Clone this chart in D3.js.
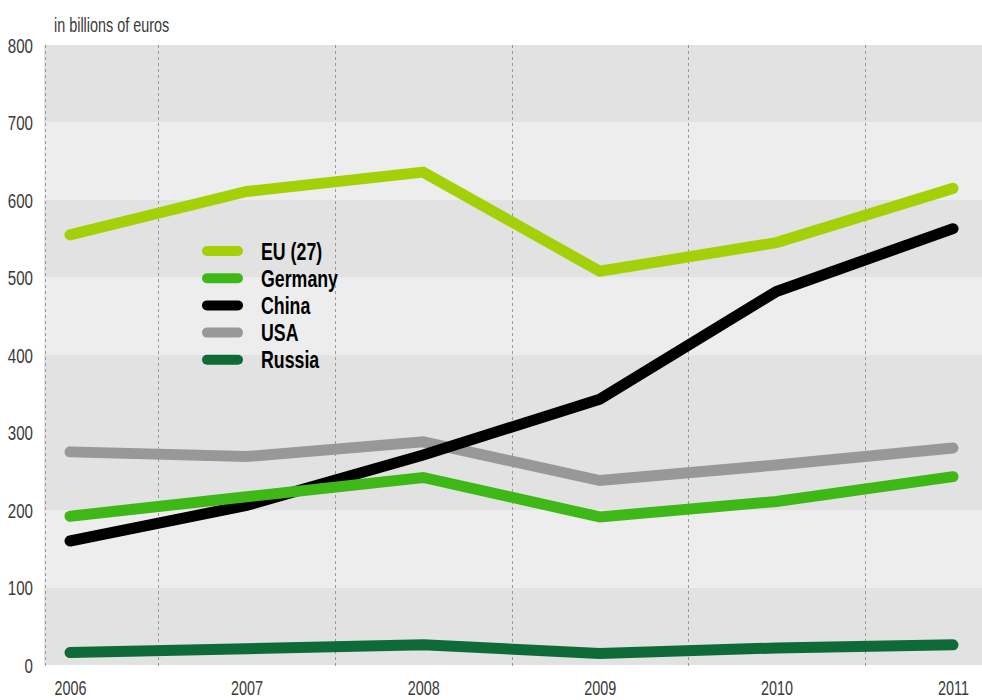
<!DOCTYPE html>
<html>
<head>
<meta charset="utf-8">
<script src="https://cdn.jsdelivr.net/npm/d3@7"></script>
<style>
  body { margin: 0; background: #fff; }
  svg { display: block; }
  text { font-family: "Liberation Sans", Arial, sans-serif; }
</style>
</head>
<body>
<div id="chart"></div>
<script>
// data (billions of euros)
var years   = [2006, 2007, 2008, 2009, 2010, 2011];
var eu      = [555, 611, 636, 508, 545, 615];
var germany = [192, 217, 242, 191, 211, 243];
var china   = [160, 206, 271, 343, 482, 563];
var usa     = [275, 269, 288, 238, 258, 280];
var russia  = [16, 21, 26, 15, 22, 26];

var seriesNames  = ["EU (27)", "Germany", "China", "USA", "Russia"];
var seriesValues = [eu, germany, china, usa, russia];
var seriesColors = ["#a4d007", "#3db816", "#000000", "#979897", "#0e6b37"];

var yTicks = [0, 100, 200, 300, 400, 500, 600, 700, 800];
var bandBreaks = [0, 100, 200, 400, 500, 600, 700, 800];  // shaded background bands
var unitLabel = "in billions of euros";

var width = 982, height = 700;
var plot = { left: 44, right: 982, top: 45, bottom: 665 };
var squeeze = 0.72;   // condensed look for the text

var svg = d3.select("#chart").append("svg")
	.attr("width", width)
	.attr("height", height);

var x = d3.scaleLinear()
	.domain([2006, 2011])
	.range([70, 953]);

var y = d3.scaleLinear()
	.domain([0, 800])
	.range([plot.bottom, plot.top]);

// background bands
svg.append("g").selectAll("rect")
	.data(d3.pairs(bandBreaks)).enter()
	.append("rect")
		.attr("x", plot.left)
		.attr("width", plot.right - plot.left)
		.attr("y", function(d){ return y(d[1]) })
		.attr("height", function(d){ return y(d[0]) - y(d[1]) })
		.attr("fill", function(d,i){ return i % 2 ? "#ededed" : "#e1e2e1" });

// dashed dividers: left edge + halfway between years
var dividers = [x.invert(plot.left + 1)]
	.concat(years.slice(0, -1).map(function(d){ return d + 0.5 }));
svg.append("g").selectAll("line")
	.data(dividers).enter()
	.append("line")
		.attr("x1", function(d){ return Math.round(x(d)) + 0.5 })
		.attr("x2", function(d){ return Math.round(x(d)) + 0.5 })
		.attr("y1", plot.top)
		.attr("y2", plot.bottom + 3)
		.attr("stroke", "#9a9a9a")
		.attr("stroke-width", 1)
		.attr("stroke-dasharray", "3,3");

// y axis (labels only)
var yAxis = svg.append("g")
	.attr("transform", "translate(33,0)")
	.call(d3.axisLeft(y).tickValues(yTicks).tickSize(0).tickPadding(0));
yAxis.select(".domain").remove();
yAxis.attr("font-family", null).attr("font-size", null);
yAxis.selectAll("text")
	.attr("x", null).attr("dy", null)
	.attr("transform", "translate(0,7) scale(" + squeeze + ",1)")
	.attr("fill", "#3a3a3a")
	.style("font-size", "21px");

// x axis (labels only)
var xAxis = svg.append("g")
	.attr("transform", "translate(0," + plot.bottom + ")")
	.call(d3.axisBottom(x).tickValues(years).tickFormat(d3.format("d")).tickSize(0).tickPadding(0));
xAxis.select(".domain").remove();
xAxis.attr("font-family", null).attr("font-size", null);
xAxis.selectAll(".tick text")
	.attr("y", null).attr("dy", null)
	.attr("transform", "translate(0,30) scale(" + squeeze + ",1)")
	.attr("fill", "#3a3a3a")
	.style("font-size", "20px");

// unit label
svg.append("text")
	.attr("transform", "translate(54,32) scale(" + squeeze + ",1)")
	.attr("fill", "#3a3a3a")
	.style("font-size", "20px")
	.text(unitLabel);

// series lines
var line = d3.line()
	.x(function(d,i){ return x(years[i]) })
	.y(function(d){ return y(d) });

svg.append("g").selectAll("path")
	.data(seriesValues.slice().reverse()).enter()
	.append("path")
		.attr("d", line)
		.attr("fill", "none")
		.attr("stroke", function(d,i){ return seriesColors[seriesValues.length - 1 - i] })
		.attr("stroke-width", 11)
		.attr("stroke-linecap", "round")
		.attr("stroke-linejoin", "miter");

// legend
var legend = svg.append("g").attr("transform", "translate(202,251)");
var row = legend.selectAll("g")
	.data(seriesNames).enter()
	.append("g")
		.attr("transform", function(d,i){ return "translate(0," + (i * 27.2) + ")" });
row.append("line")
	.attr("x1", 5).attr("x2", 36)
	.attr("stroke", function(d,i){ return seriesColors[i] })
	.attr("stroke-width", 10)
	.attr("stroke-linecap", "round");
row.append("text")
	.attr("transform", "translate(59,8.5) scale(0.74,1)")
	.style("font-size", "24px")
	.style("font-weight", "bold")
	.attr("fill", "#000")
	.text(function(d){ return d });
</script>
</body>
</html>
